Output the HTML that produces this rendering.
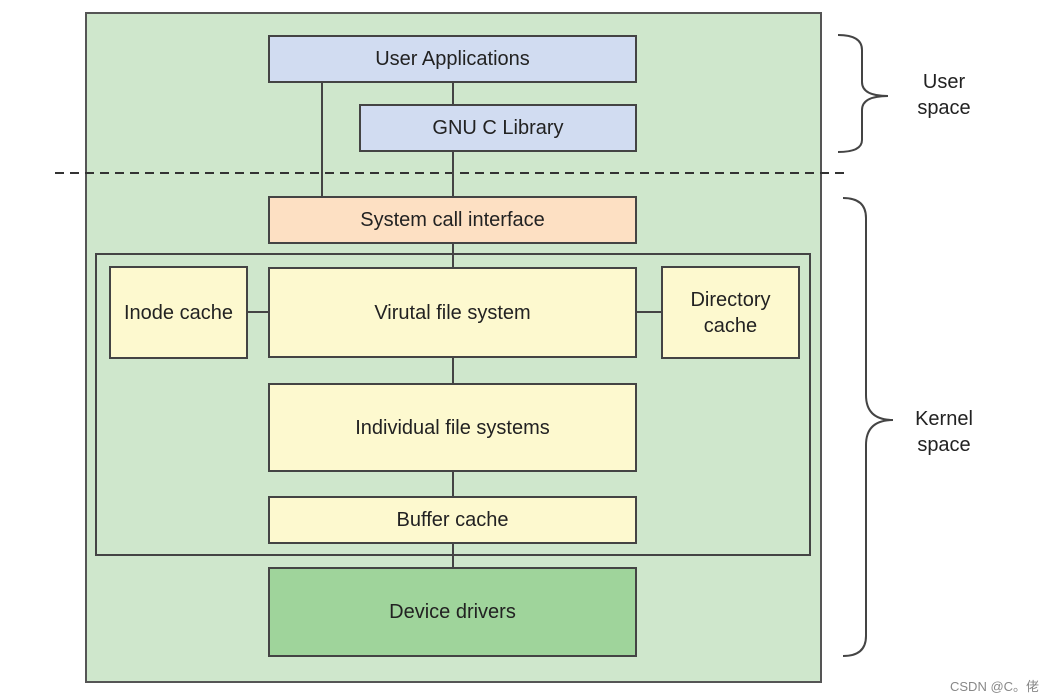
<!DOCTYPE html>
<html><head><style>
body{margin:0;background:#fff;width:1050px;height:700px;position:relative;overflow:hidden;font-family:"Liberation Sans",Arial,sans-serif;}
.b{position:absolute;box-sizing:border-box;border:2px solid #444;display:flex;align-items:center;justify-content:center;text-align:center;font-size:20px;color:#222;line-height:26px;}
.l{position:absolute;background:#444;}
.t{position:absolute;font-size:20px;color:#222;text-align:center;line-height:26px;}
</style></head><body>
<div class="b" style="left:85px;top:12px;width:737px;height:671px;background:#cfe7cc;border-color:#555"></div>
<svg style="position:absolute;left:0;top:0" width="1050" height="700">
<line x1="55" y1="173" x2="850" y2="173" stroke="#333" stroke-width="2" stroke-dasharray="9,6"/>
<path d="M838 35 Q862 35 862 50 L862 82 Q862 96 888 96 Q862 96 862 110 L862 140 Q862 152 838 152" fill="none" stroke="#444" stroke-width="2"/>
<path d="M843 198 Q866 198 866 218 L866 395 Q866 420 893 420 Q866 420 866 445 L866 636 Q866 656 843 656" fill="none" stroke="#444" stroke-width="2"/>
</svg>
<div class="l" style="left:321px;top:82px;width:2px;height:114px"></div>
<div class="l" style="left:452px;top:82px;width:2px;height:22px"></div>
<div class="l" style="left:452px;top:151px;width:2px;height:45px"></div>
<div class="l" style="left:452px;top:243px;width:2px;height:24px"></div>
<div class="l" style="left:452px;top:357px;width:2px;height:26px"></div>
<div class="l" style="left:452px;top:471px;width:2px;height:25px"></div>
<div class="l" style="left:452px;top:543px;width:2px;height:24px"></div>
<div class="l" style="left:247px;top:311px;width:21px;height:2px"></div>
<div class="l" style="left:636px;top:311px;width:25px;height:2px"></div>
<div class="b" style="left:95px;top:253px;width:716px;height:303px;background:transparent"></div>
<div class="b" style="left:268px;top:35px;width:369px;height:48px;background:#d1dcf1">User Applications</div>
<div class="b" style="left:359px;top:104px;width:278px;height:48px;background:#d1dcf1">GNU C Library</div>
<div class="b" style="left:268px;top:196px;width:369px;height:48px;background:#fde0c3">System call interface</div>
<div class="b" style="left:109px;top:266px;width:139px;height:93px;background:#fdf9cf">Inode cache</div>
<div class="b" style="left:268px;top:267px;width:369px;height:91px;background:#fdf9cf">Virutal file system</div>
<div class="b" style="left:661px;top:266px;width:139px;height:93px;background:#fdf9cf">Directory<br>cache</div>
<div class="b" style="left:268px;top:383px;width:369px;height:89px;background:#fdf9cf">Individual file systems</div>
<div class="b" style="left:268px;top:496px;width:369px;height:48px;background:#fdf9cf">Buffer cache</div>
<div class="b" style="left:268px;top:567px;width:369px;height:90px;background:#9fd49b">Device drivers</div>
<div class="t" style="left:894px;top:69px;width:100px">User<br>space</div>
<div class="t" style="left:894px;top:406px;width:100px">Kernel<br>space</div>
<div style="position:absolute;left:950px;top:676px;font-size:13px;color:#888;font-family:'Liberation Sans','Noto Sans CJK SC',sans-serif">CSDN @C。佬</div>
</body></html>
